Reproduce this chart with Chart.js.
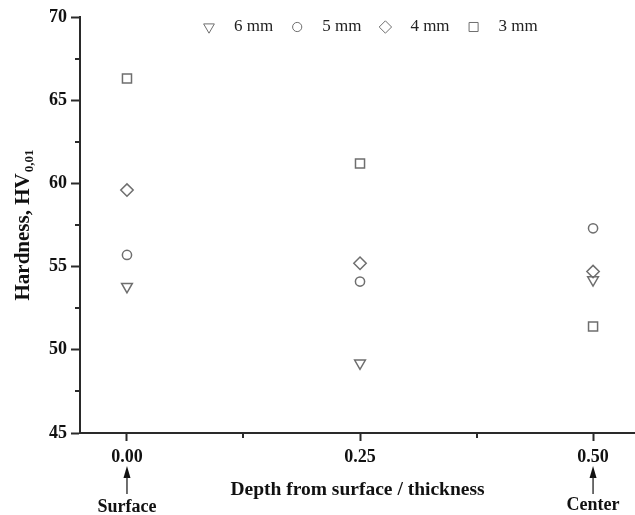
<!DOCTYPE html>
<html><head><meta charset="utf-8">
<script src="https://cdn.jsdelivr.net/npm/chart.js@4.4.1/dist/chart.umd.min.js"></script>
<style>html,body{margin:0;padding:0;background:#fff}#wrap{width:635px;height:515px}</style>
</head><body><div id="wrap"><canvas id="c" width="635" height="515"></canvas></div>
<script>
// ---- data ----
const depths = [0.00, 0.25, 0.50];
const xTickValues = [0.00, 0.25, 0.50];
const xMinorTicks = [0.125, 0.375];
const yTickValues = [45, 50, 55, 60, 65, 70];
const yMinorTicks = [47.5, 52.5, 57.5, 62.5, 67.5];
const seriesNames = ['6 mm', '5 mm', '4 mm', '3 mm'];
const hv6mm = [53.8, 49.2, 54.2];
const hv5mm = [55.7, 54.1, 57.3];
const hv4mm = [59.6, 55.2, 54.7];
const hv3mm = [66.3, 61.2, 51.4];
const landmarkDepths = [0.00, 0.50];
const landmarkLabels = ['Surface', 'Center'];
const xTitle = 'Depth from surface / thickness';
const yTitleMain = 'Hardness, HV';
const yTitleSub = '0,01';

const SERIF = "'Liberation Serif', 'Times New Roman', serif";
const AXIS = '#2a2a2a';
const MARK = '#6e6e6e';

function pts(vals){ return depths.map((x,i)=>({x:x, y:vals[i]})); }
const markerDefs = [
  {style:'triangle', rotation:180, radius:6.2},
  {style:'circle', rotation:0, radius:4.6},
  {style:'rectRot', rotation:0, radius:6.2},
  {style:'rect', rotation:0, radius:6.4}
];
const seriesVals = [hv6mm, hv5mm, hv4mm, hv3mm];
const datasets = seriesNames.map((n,i)=>({
  label:n, data:pts(seriesVals[i]),
  pointStyle:markerDefs[i].style, rotation:markerDefs[i].rotation,
  pointRadius:markerDefs[i].radius, pointHoverRadius:markerDefs[i].radius,
  borderColor:MARK, backgroundColor:'rgba(0,0,0,0)', pointBorderWidth:1.5, borderWidth:1.5,
  showLine:false
}));

function drawMarker(ctx, def, x, y){
  if (Chart.helpers && Chart.helpers.drawPoint) {
    Chart.helpers.drawPoint(ctx, {pointStyle:def.style, rotation:def.rotation, radius:def.radius, borderWidth:1.5}, x, y);
  }
}

const extras = {
  id:'extras',
  afterDraw(chart){
    const ctx = chart.ctx, xs = chart.scales.x, ys = chart.scales.y, ca = chart.chartArea;
    ctx.save();
    // minor ticks
    ctx.strokeStyle = AXIS; ctx.lineWidth = 2;
    xMinorTicks.forEach(v=>{ const p = Math.round(xs.getPixelForValue(v)); ctx.beginPath(); ctx.moveTo(p, ca.bottom); ctx.lineTo(p, ca.bottom+5); ctx.stroke(); });
    yMinorTicks.forEach(v=>{ const p = Math.round(ys.getPixelForValue(v)); ctx.beginPath(); ctx.moveTo(ca.left-5, p); ctx.lineTo(ca.left, p); ctx.stroke(); });
    // landmarks with arrows
    ctx.fillStyle = '#111'; ctx.strokeStyle = '#222';
    landmarkDepths.forEach((v,i)=>{
      const p = xs.getPixelForValue(v);
      ctx.beginPath(); ctx.moveTo(p, 466); ctx.lineTo(p-3.5, 478); ctx.lineTo(p+3.5, 478); ctx.closePath(); ctx.fill();
      ctx.lineWidth = 1.3; ctx.beginPath(); ctx.moveTo(p, 477); ctx.lineTo(p, 494); ctx.stroke();
      ctx.font = 'bold 18px ' + SERIF; ctx.textAlign = 'center'; ctx.textBaseline = 'middle';
      ctx.fillText(landmarkLabels[i], p, i === 0 ? 507 : 505);
    });
    // y title with subscript
    ctx.translate(22, ca.top + (ca.bottom-ca.top)/2);
    ctx.rotate(-Math.PI/2);
    ctx.fillStyle = '#111';
    ctx.textBaseline = 'alphabetic'; ctx.textAlign = 'left';
    ctx.font = 'bold 21px ' + SERIF;
    const w1 = ctx.measureText(yTitleMain).width;
    ctx.font = 'bold 13px ' + SERIF;
    const w2 = ctx.measureText(yTitleSub).width;
    const start = -(w1 + w2 + 1)/2;
    ctx.font = 'bold 21px ' + SERIF;
    ctx.fillText(yTitleMain, start, 7);
    ctx.font = 'bold 13px ' + SERIF;
    ctx.fillText(yTitleSub, start + w1 + 1, 11);
    ctx.restore();
    // legend
    ctx.save();
    let lx = 209; const ly = 27;
    ctx.font = '17px ' + SERIF;
    seriesNames.forEach((n,i)=>{
      ctx.strokeStyle = MARK; ctx.fillStyle = 'rgba(0,0,0,0)';
      drawMarker(ctx, markerDefs[i], lx, ly);
      ctx.fillStyle = '#222'; ctx.textAlign = 'left'; ctx.textBaseline = 'middle';
      ctx.font = '17px ' + SERIF;
      ctx.fillText(n, lx + 25, ly);
      lx = lx + 25 + ctx.measureText(n).width + 24;
    });
    ctx.restore();
  }
};

new Chart(document.getElementById('c'), {
  type:'scatter',
  data:{datasets:datasets},
  plugins:[extras],
  options:{
    responsive:false, animation:false, devicePixelRatio:1,
    layout:{autoPadding:false, padding:{top:17, right:0, bottom:0, left:0}},
    plugins:{legend:{display:false}, tooltip:{enabled:false}},
    scales:{
      x:{
        type:'linear', min:-0.0504, max:0.545,
        afterBuildTicks:s=>{ s.ticks = xTickValues.map(v=>({value:v})); },
        afterFit:s=>{ s.height = 82; s.paddingRight = 0; s.paddingLeft = 0; },
        grid:{drawOnChartArea:false, drawTicks:true, tickLength:8, tickColor:AXIS, tickWidth:2},
        border:{display:true, color:AXIS, width:2},
        ticks:{font:{family:SERIF, weight:'bold', size:18}, color:'#111', padding:6, maxRotation:0, autoSkip:false,
               callback:v=>Number(v).toFixed(2)},
        title:{display:true, text:xTitle, font:{family:SERIF, weight:'bold', size:19.5}, color:'#111', padding:{top:0, bottom:13}}
      },
      y:{
        type:'linear', min:45, max:70,
        afterBuildTicks:s=>{ s.ticks = yTickValues.map(v=>({value:v})); },
        afterFit:s=>{ s.width = 80; s.paddingTop = 0; s.paddingBottom = 0; },
        grid:{drawOnChartArea:false, drawTicks:true, tickLength:9, tickColor:AXIS, tickWidth:2},
        border:{display:true, color:AXIS, width:2},
        ticks:{font:{family:SERIF, weight:'bold', size:18}, color:'#111', padding:4,
               callback:v=>String(v)}
      }
    }
  }
});
</script></body></html>
